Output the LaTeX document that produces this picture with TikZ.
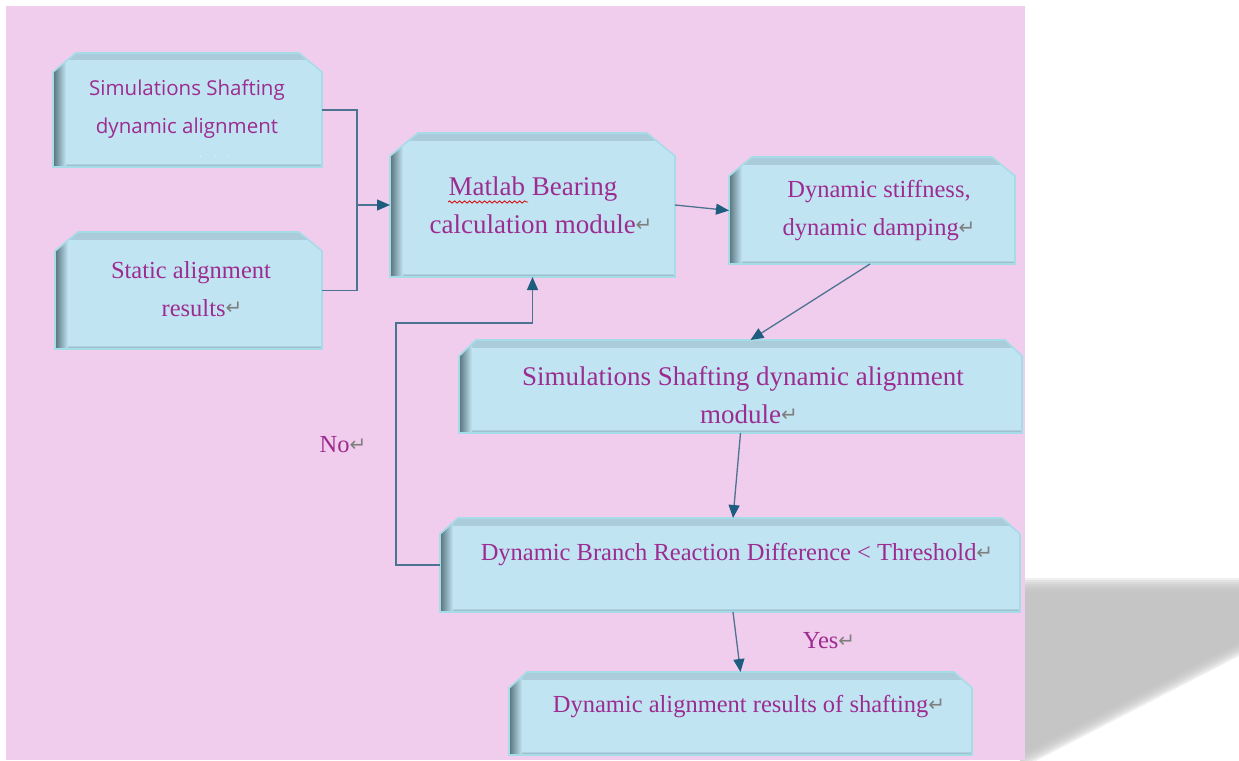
\documentclass[tikz,border=0pt]{standalone}
\usepackage{fontspec}
\setmainfont{Liberation Serif}
\newfontfamily\sansf{Open Sans}
\newfontfamily\symf{DejaVu Sans}
\usetikzlibrary{arrows.meta,decorations.pathmorphing}
\definecolor{pagepink}{HTML}{F1CDED}
\definecolor{boxblue}{HTML}{C1E4F3}
\definecolor{boxrim}{HTML}{A6DCE8}
\definecolor{rimdark}{HTML}{56727C}
\definecolor{txtpurple}{HTML}{9C2C8F}
\definecolor{retgray}{HTML}{7F7F7F}
\definecolor{linecol}{HTML}{4C7391}
\definecolor{tipcol}{HTML}{1E5D7F}
\definecolor{shadowgray}{HTML}{C2C2C2}
\newcommand\retmark{{\symf\color{retgray}\fontsize{20}{20}\selectfont\raisebox{0.08em}{↵}}}
% outline of a box with its two upper corners cut off
\newcommand\chamferframe[3]{%
  \path[boxframe] (#1.south west) -- ([yshift=-#3]#1.north west) -- ([xshift=#2]#1.north west)
    -- ([xshift=-#2]#1.north east) -- ([yshift=-#3]#1.north east) -- (#1.south east) -- cycle;}

\begin{document}
\begin{tikzpicture}[x=1pt,y=-1pt,
  anchorbox/.style={rectangle, inner sep=0pt, outer sep=0pt, draw=none},
  boxframe/.style={fill=boxblue, draw=boxrim, line width=1.6pt,
    path picture={
      \shade[top color=boxblue!78!rimdark, bottom color=boxblue]
        (path picture bounding box.north west) rectangle ([yshift=-7pt]path picture bounding box.north east);
      \shade[top color=boxblue, bottom color=rimdark!65!boxblue]
        ([yshift=4pt]path picture bounding box.south west) rectangle (path picture bounding box.south east);
      \shade[left color=rimdark, right color=boxblue]
        (path picture bounding box.south west) rectangle ([xshift=13pt]path picture bounding box.north west);
    }},
  txt/.style={align=center, text=txtpurple, inner sep=0pt,
    font=\fontsize{24.5}{38}\selectfont},
  bigtxt/.style={txt, font=\fontsize{27}{38}\selectfont},
  link/.style={draw=linecol, line width=1.3pt},
  arrowlink/.style={link, -{Triangle[length=13pt,width=11pt,color=tipcol]}}
]
\useasboundingbox (0,0) rectangle (1239,760);
\fill[white] (0,0) rectangle (1239,760);

% soft drop shadow to the right of the page
\foreach \i in {0,...,7}
  \fill[shadowgray, opacity=0.25]
    (1020,578+2*\i) -- (1239,578+2*\i) -- (1239,656-2*\i) -- (1020,769-2*\i) -- cycle;

% page
\fill[pagepink] (6,6) rectangle (1025,760);

% box extents
\node[anchorbox, minimum width=269pt, minimum height=114pt] (simA) at (187.5,110) {};
\node[anchorbox, minimum width=267pt, minimum height=117pt] (stat) at (188.5,290.5) {};
\node[anchorbox, minimum width=285pt, minimum height=144pt] (calc) at (532.5,205) {};
\node[anchorbox, minimum width=286pt, minimum height=107pt] (stiff) at (872,210.5) {};
\node[anchorbox, minimum width=563pt, minimum height=93pt] (simE) at (740.5,386.5) {};
\node[anchorbox, minimum width=580pt, minimum height=94pt] (diff) at (730,565) {};
\node[anchorbox, minimum width=463pt, minimum height=83pt] (res) at (740.5,713.5) {};

% box bodies
\chamferframe{simA}{23pt}{19pt}
\chamferframe{stat}{23pt}{19pt}
\chamferframe{calc}{28pt}{23pt}
\chamferframe{stiff}{23pt}{19pt}
\chamferframe{simE}{17pt}{16pt}
\chamferframe{diff}{18pt}{16pt}
\chamferframe{res}{18pt}{16pt}

% box texts
\node[txt, font=\sansf\fontsize{20.5}{38}\selectfont] (simAt) at (187,109) {Simulations Shafting\\dynamic alignment};
\node[text=white, inner sep=0pt, font=\fontsize{9}{9}\selectfont] (simAdots) at (214,157) {.\hspace{12pt}.\hspace{10pt}.};
\node[txt] (statt) at (191,289) {Static alignment\\\hspace*{22pt}results\retmark};
\node[bigtxt] (calct) at (541,205) {\hspace*{-16pt}Matlab Bearing\\calculation module\retmark};
\node[txt] (stifft) at (879,211) {Dynamic stiffness,\\dynamic damping\retmark};
\node[bigtxt] (simEt) at (743,395) {Simulations Shafting dynamic alignment\\\hspace*{12pt}module\retmark};
\node[txt] (difft) at (737,555) {Dynamic Branch Reaction Difference < Threshold\retmark};
\node[txt] (rest) at (749,707) {Dynamic alignment results of shafting\retmark};

% spell-check underline under "Matlab"
\draw[red!85!black, line width=0.8pt, decorate,
      decoration={snake, amplitude=1.1pt, segment length=5pt}] (448,202) -- (528,202);

% branch labels
\node[txt] (nolab) at (343,445) {No\retmark};
\node[txt] (yeslab) at (829,641) {Yes\retmark};

% connectors
\coordinate (join) at (357,205);
\draw[link] (simA.east) -| (join) |- (stat.east);
\draw[arrowlink] (join) -- (calc.west);
\draw[arrowlink] (calc.east) -- (stiff.west);
\draw[arrowlink] ([xshift=-2pt]stiff.south) -- ([xshift=10pt]simE.north);
\draw[arrowlink] (simE.south) -- ([xshift=3pt]diff.north);
\draw[arrowlink] ([xshift=3pt]diff.south) -- (res.north);
\coordinate (loop) at (396,323);
\draw[arrowlink] (diff.west) -| (loop) -| (calc.south);
\end{tikzpicture}
\end{document}
